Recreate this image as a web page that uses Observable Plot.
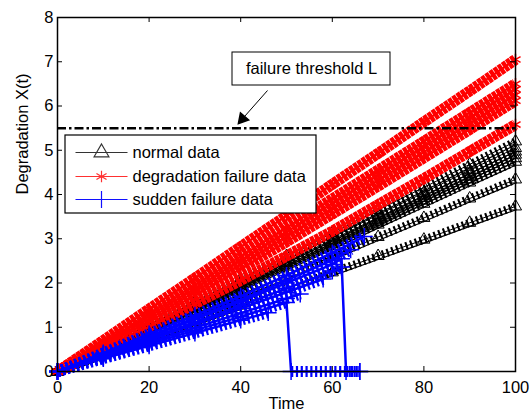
<!DOCTYPE html>
<html><head><meta charset="utf-8">
<script src="https://cdn.jsdelivr.net/npm/d3@7"></script>
<script src="https://cdn.jsdelivr.net/npm/@observablehq/plot@0.6"></script>
<style>
body{margin:0;background:#fff;}
#chart svg{display:block;}
</style></head><body><div id="chart"></div>
<script>
// ---- data ----
const timeGrid = [0,10,20,30,40,50,60,70,80,90,100];
const normalValues = [
  [0,0.53,1.05,1.57,2.09,2.61,3.13,3.65,4.16,4.68,5.20],
  [0,0.50,1.01,1.52,2.02,2.53,3.03,3.54,4.04,4.55,5.05],
  [0,0.49,0.99,1.49,1.99,2.48,2.98,3.48,3.98,4.47,4.97],
  [0,0.49,0.98,1.47,1.96,2.45,2.94,3.43,3.92,4.41,4.90],
  [0,0.48,0.96,1.45,1.93,2.41,2.89,3.37,3.86,4.34,4.82],
  [0,0.47,0.95,1.42,1.90,2.37,2.84,3.32,3.79,4.27,4.74],
  [0,0.43,0.87,1.30,1.74,2.17,2.60,3.04,3.47,3.91,4.34],
  [0,0.37,0.75,1.12,1.49,1.87,2.24,2.61,2.98,3.36,3.73]
];
const degradationValues = [
  [0,0.70,1.41,2.11,2.82,3.52,4.23,4.93,5.64,6.34,7.05],
  [0,0.65,1.30,1.95,2.60,3.25,3.90,4.55,5.20,5.85,6.50],
  [0,0.62,1.25,1.88,2.51,3.15,3.80,4.44,5.08,5.73,6.38],
  [0,0.59,1.19,1.80,2.42,3.05,3.68,4.32,4.96,5.60,6.25],
  [0,0.56,1.13,1.72,2.32,2.93,3.56,4.19,4.83,5.47,6.12],
  [0,0.50,1.01,1.53,2.06,2.61,3.17,3.77,4.36,4.97,5.58]
];
const suddenTimes = [
  [0,10,20,30,40,50,60,67],
  [0,10,20,30,40,50,60,64],
  [0,10,20,30,40,50,60,62,63,66],
  [0,10,20,30,40,50,60,62],
  [0,10,20,30,40,50,58],
  [0,10,20,30,40,50,53],
  [0,10,20,30,40,50,51,66],
  [0,10,20,30,40,46]
];
const suddenValues = [
  [0,0.42,0.85,1.27,1.70,2.17,2.68,3.05],
  [0,0.40,0.80,1.21,1.62,2.06,2.52,2.75],
  [0,0.39,0.78,1.18,1.58,2.00,2.42,2.55,0,0],
  [0,0.37,0.74,1.11,1.49,1.88,2.27,2.36],
  [0,0.35,0.71,1.07,1.43,1.79,2.09],
  [0,0.33,0.66,0.99,1.32,1.65,1.75],
  [0,0.31,0.62,0.93,1.24,1.56,0,0],
  [0,0.29,0.58,0.87,1.16,1.33]
];
const suddenFailAt = [null,null,62,null,null,null,50,null];
const threshold = 5.5;
const xTicks = [0,20,40,60,80,100];
const yTicks = [0,1,2,3,4,5,6,7,8];
const seriesNames = ["normal data","degradation failure data","sudden failure data"];
const thresholdLabel = "failure threshold L";

// ---- layout ----
const W=532,H=418,ML=57,MR=17,MT=17,MB=47;
const xDomain=[0,100], yDomain=[0,8];
const px2x = p => xDomain[0] + (p-ML)/(W-ML-MR)*(xDomain[1]-xDomain[0]);
const px2y = p => yDomain[1] - (p-MT)/(H-MT-MB)*(yDomain[1]-yDomain[0]);
const tickX = 5*(xDomain[1]-xDomain[0])/(W-ML-MR);
const tickY = 5*(yDomain[1]-yDomain[0])/(H-MT-MB);
const FS = 16.5;

const normalRows = normalValues.flatMap((vals,i)=>vals.map((v,j)=>({id:"n"+i,t:timeGrid[j],v})));
const degRows = degradationValues.flatMap((vals,i)=>vals.map((v,j)=>({id:"r"+i,t:timeGrid[j],v})));
const suddenRows = suddenValues.flatMap((vals,i)=>vals.map((v,j)=>{
  const t = suddenTimes[i][j];
  const f = suddenFailAt[i];
  return {id:"b"+i, seg:"b"+i+(f!==null && t>f ? "z":""), t, v};
}));

// legend geometry (pixels -> data)
const legX1=px2x(65), legX2=px2x(316), legY1=px2y(135), legY2=px2y(213);
const rowsY=[px2y(152),px2y(176),px2y(199)];
const sampleX1=px2x(75), sampleX2=px2x(127), sampleMid=px2x(101), textX=px2x(132);
const legendRows = seriesNames.map((name,i)=>({name,i,y:rowsY[i]}));
const legColors = ["#333","#ff3030","#1010ff"];
const legSymbols = ["triangle","asterisk","plus"];

// annotation geometry
const boxX1=px2x(232), boxX2=px2x(390), boxY1=px2y(52), boxY2=px2y(85);
const arrowStart=[px2x(267),px2y(90)];
const headCenter=[px2x(242),px2y(118.3)];

const texture = {x:"t", y:"v", strokeLinecap:"butt", strokeLinejoin:"miter"};

const chart = Plot.plot({
  width: W, height: H,
  marginLeft: ML, marginRight: MR, marginTop: MT, marginBottom: MB,
  x: {domain: xDomain},
  y: {domain: yDomain},
  style: {fontFamily: "'Liberation Sans', Arial, sans-serif", fontSize: FS+"px", color: "black", background: "white"},
  marks: [
    // normal data (black triangles)
    Plot.line(normalRows, {...texture, z:"id", stroke:"#000", strokeWidth:8, strokeDasharray:"2.1,2.9"}),
    Plot.line(normalRows, {x:"t", y:"v", z:"id", stroke:"#000", strokeWidth:1.2, dy:3.5}),
    Plot.line(normalRows, {x:"t", y:"v", z:"id", stroke:"#000", strokeWidth:1}),
    Plot.dot(normalRows, {x:"t", y:"v", symbol:"triangle", r:4.5, stroke:"#000", fill:"none", strokeWidth:1}),
    // degradation failure data (red asterisks)
    Plot.line(degRows, {...texture, z:"id", stroke:"#ff0000", strokeWidth:11, strokeDasharray:"4.3,0.7"}),
    Plot.line(degRows, {x:"t", y:"v", z:"id", stroke:"#ff0000", strokeWidth:2}),
    Plot.dot(degRows, {x:"t", y:"v", symbol:"asterisk", r:5.5, stroke:"#ff0000", strokeWidth:1.5}),
    // sudden failure data (blue plus)
    Plot.line(suddenRows, {...texture, z:"seg", stroke:"#0000ff", strokeWidth:11, strokeDasharray:"2.2,2.6"}),
    Plot.line(suddenRows, {x:"t", y:"v", z:"id", stroke:"#0000ff", strokeWidth:2.5}),
    Plot.dot(suddenRows, {x:"t", y:"v", symbol:"plus", r:5.5, stroke:"#0000ff", strokeWidth:1.5}),
    // threshold
    Plot.ruleY([threshold], {stroke:"#000", strokeWidth:2.5, strokeDasharray:"9,3,2.5,3"}),
    // threshold annotation
    Plot.rect([thresholdLabel], {x1:boxX1, x2:boxX2, y1:boxY1, y2:boxY2, fill:"white", stroke:"#000", strokeWidth:1}),
    Plot.text([thresholdLabel], {x:(boxX1+boxX2)/2, y:(boxY1+boxY2)/2, text:d=>d, fontSize:FS, fill:"#000"}),
    Plot.link([thresholdLabel], {x1:arrowStart[0], y1:arrowStart[1], x2:headCenter[0], y2:headCenter[1], stroke:"#000", strokeWidth:1}),
    Plot.dot([thresholdLabel], {x:headCenter[0], y:headCenter[1], symbol:"triangle", r:4, fill:"#000", stroke:"#000", rotate:221}),
    // legend
    Plot.rect([0], {x1:legX1, x2:legX2, y1:legY1, y2:legY2, fill:"white", stroke:"#000", strokeWidth:1.2}),
    Plot.link(legendRows, {x1:sampleX1, x2:sampleX2, y1:"y", y2:"y", stroke:d=>legColors[d.i], strokeWidth:1.2}),
    Plot.dot(legendRows, {x:sampleMid, y:"y", symbol:d=>legSymbols[d.i], r:5.5, stroke:d=>legColors[d.i], fill:"none", strokeWidth:1.2}),
    Plot.text(legendRows, {x:textX, y:"y", text:"name", textAnchor:"start", fontSize:FS, fill:"#000"}),
    // axes (labels) and inward ticks on all four sides
    Plot.axisX({ticks:xTicks, tickSize:0, tickPadding:10, label:null, fontSize:FS}),
    Plot.axisY({ticks:yTicks, tickSize:0, tickPadding:4, label:null, fontSize:FS}),
    Plot.ruleX(xTicks, {y1:yDomain[0], y2:yDomain[0]+tickY, stroke:"#000"}),
    Plot.ruleX(xTicks, {y1:yDomain[1], y2:yDomain[1]-tickY, stroke:"#000"}),
    Plot.ruleY(yTicks, {x1:xDomain[0], x2:xDomain[0]+tickX, stroke:"#000"}),
    Plot.ruleY(yTicks, {x1:xDomain[1], x2:xDomain[1]-tickX, stroke:"#000"}),
    Plot.frame({stroke:"#000", strokeWidth:1.5}),
    Plot.text(["Time"], {frameAnchor:"bottom", dy:37, fontSize:FS, fill:"#000"}),
    Plot.text(["Degradation X(t)"], {frameAnchor:"left", dx:-35, rotate:-90, fontSize:FS, fill:"#000"})
  ]
});
document.getElementById("chart").appendChild(chart);
</script>
</body></html>
